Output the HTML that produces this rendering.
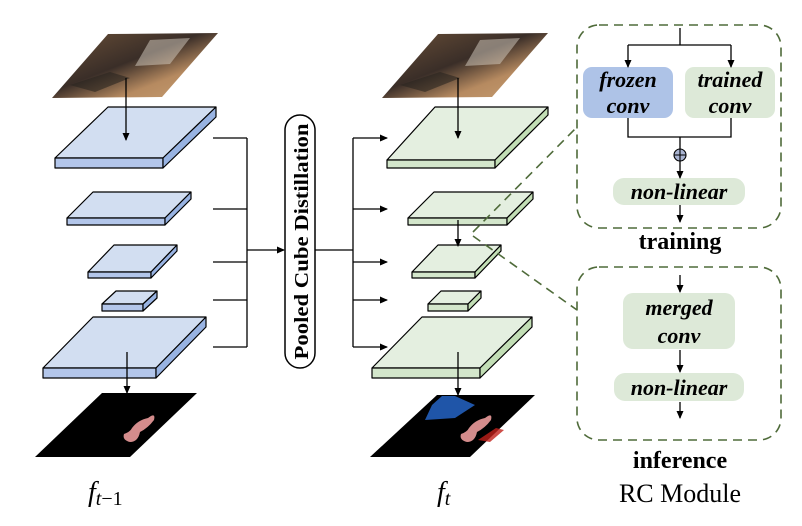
<!DOCTYPE html>
<html><head><meta charset="utf-8"><style>
html,body{margin:0;padding:0;background:#fff;}
svg{display:block;}
.sv{font-family:"Liberation Serif",serif;}
</style></head><body>
<svg width="802" height="526" viewBox="0 0 802 526" xmlns="http://www.w3.org/2000/svg">
<defs>
<marker id="ah" markerWidth="8" markerHeight="8" refX="7" refY="4" orient="auto" markerUnits="userSpaceOnUse">
<path d="M0,0.5 L8,4 L0,7.5 Z" fill="#000"/></marker>
<linearGradient id="ph" x1="0" y1="0" x2="1" y2="1">
<stop offset="0" stop-color="#6b5038"/><stop offset="0.45" stop-color="#3a2e28"/><stop offset="0.7" stop-color="#b68a60"/><stop offset="1" stop-color="#c9a074"/></linearGradient>
</defs>

<!-- photos -->
<polygon points="108,34 218,33 162,97 52,98" fill="url(#ph)"/>
<polygon points="150,40 190,38 170,64 135,66" fill="#d8d0c4" opacity="0.5"/>
<polygon points="70,85 110,72 130,78 95,92" fill="#2a2420" opacity="0.6"/>
<polygon points="438,34 548,33 492,97 382,98" fill="url(#ph)"/>
<polygon points="480,40 520,38 500,64 465,66" fill="#d8d0c4" opacity="0.5"/>
<polygon points="400,85 440,72 460,78 425,92" fill="#2a2420" opacity="0.6"/>

<!-- masks -->
<polygon points="102,393 197,393 130,457 35,457" fill="#000"/>
<path d="M148,418 q8,-6 6,2 q-6,8 -14,12 q-2,10 -10,10 q-8,-2 -6,-8 q6,-2 8,-6 q6,-8 16,-10z" fill="#d48c8c"/>
<polygon points="437,395 535,395 470,457 370,457" fill="#000"/>
<polygon points="442,396 455,396 475,405 455,418 425,420 432,405" fill="#1f55a8"/>
<path d="M485,418 q8,-6 6,2 q-6,8 -14,12 q-2,10 -10,10 q-8,-2 -6,-8 q6,-2 8,-6 q6,-8 16,-10z" fill="#d48c8c"/>
<path d="M478,440 l18,-12 l8,2 l-14,12z" fill="#c0201a" opacity="0.8"/>

<!-- slabs left (blue) -->
<g stroke="#000" stroke-width="1.2" stroke-linejoin="round">
<polygon points="55,158 163,158 216,107 108,107" fill="#d2def1"/><rect x="55" y="158" width="108" height="10" fill="#b3c6ea"/><polygon points="163,158 216,107 216,117 163,168" fill="#98b3e2"/>
<polygon points="67,218 165,218 191,192 93,192" fill="#d2def1"/><rect x="67" y="218" width="98" height="7" fill="#b3c6ea"/><polygon points="165,218 191,192 191,199 165,225" fill="#98b3e2"/>
<polygon points="88,272 151,272 177,245 114,245" fill="#d2def1"/><rect x="88" y="272" width="63" height="6" fill="#b3c6ea"/><polygon points="151,272 177,245 177,251 151,278" fill="#98b3e2"/>
<polygon points="102,304 143,304 157,291 116,291" fill="#d2def1"/><rect x="102" y="304" width="41" height="7" fill="#b3c6ea"/><polygon points="143,304 157,291 157,298 143,311" fill="#98b3e2"/>
<polygon points="43,368 156,368 206,317 93,317" fill="#d2def1"/><rect x="43" y="368" width="113" height="10" fill="#b3c6ea"/><polygon points="156,368 206,317 206,327 156,378" fill="#98b3e2"/>
</g>
<!-- slabs right (green) -->
<g stroke="#000" stroke-width="1.2" stroke-linejoin="round">
<polygon points="387,160 495,160 548,107 435,107" fill="#e4efe0"/><rect x="387" y="160" width="108" height="8" fill="#d3e6cb"/><polygon points="495,160 548,107 548,115 495,168" fill="#c2deb5"/>
<polygon points="408,218 507,218 533,192 434,192" fill="#e4efe0"/><rect x="408" y="218" width="99" height="7" fill="#d3e6cb"/><polygon points="507,218 533,192 533,199 507,225" fill="#c2deb5"/>
<polygon points="412,272 475,272 501,245 438,245" fill="#e4efe0"/><rect x="412" y="272" width="63" height="6" fill="#d3e6cb"/><polygon points="475,272 501,245 501,251 475,278" fill="#c2deb5"/>
<polygon points="428,304 468,304 481,291 441,291" fill="#e4efe0"/><rect x="428" y="304" width="40" height="7" fill="#d3e6cb"/><polygon points="468,304 481,291 481,298 468,311" fill="#c2deb5"/>
<polygon points="372,368 480,368 532,317 422,317" fill="#e4efe0"/><rect x="372" y="368" width="108" height="10" fill="#d3e6cb"/><polygon points="480,368 532,317 532,327 480,378" fill="#c2deb5"/>
</g>

<!-- vertical arrows -->
<g stroke="#000" stroke-width="1.3" fill="none">
<line x1="126" y1="78" x2="126" y2="140" marker-end="url(#ah)"/>
<line x1="458" y1="78" x2="458" y2="138" marker-end="url(#ah)"/>
<line x1="458" y1="220" x2="458" y2="246" marker-end="url(#ah)"/>
<line x1="127" y1="352" x2="127" y2="393" marker-end="url(#ah)"/>
<line x1="458" y1="352" x2="458" y2="395" marker-end="url(#ah)"/>
</g>

<!-- connectors -->
<g stroke="#000" stroke-width="1.3" fill="none">
<path d="M213,138 H247 M213,209 H247 M213,262 H247 M213,300 H247 M213,347 H247 M247,138 V347"/>
<line x1="247" y1="250" x2="284" y2="250" marker-end="url(#ah)"/>
<path d="M315,250 H353 M353,138 V347"/>
<line x1="353" y1="138" x2="387" y2="138" marker-end="url(#ah)"/>
<line x1="353" y1="209" x2="387" y2="209" marker-end="url(#ah)"/>
<line x1="353" y1="262" x2="387" y2="262" marker-end="url(#ah)"/>
<line x1="353" y1="300" x2="387" y2="300" marker-end="url(#ah)"/>
<line x1="353" y1="347" x2="387" y2="347" marker-end="url(#ah)"/>
</g>
<rect x="285" y="115" width="30" height="253" rx="15" fill="#fff" stroke="#000" stroke-width="1.5"/>
<text class="sv" transform="translate(308,241.5) rotate(-90)" text-anchor="middle" font-size="19.5" font-weight="bold" textLength="236" lengthAdjust="spacingAndGlyphs">Pooled Cube Distillation</text>

<!-- dashed links -->
<g stroke="#4f6b3a" stroke-width="1.6" stroke-dasharray="9,6" fill="none">
<line x1="473" y1="232" x2="577" y2="127"/>
<line x1="473" y1="236" x2="577" y2="310"/>
<rect x="577" y="25" width="204" height="203" rx="22"/>
<rect x="577" y="267" width="204" height="173" rx="22"/>
</g>

<!-- training module -->
<rect x="583" y="67" width="90" height="51" rx="9" fill="#aec3e7"/>
<rect x="685" y="67" width="90" height="51" rx="9" fill="#dde9d8"/>
<rect x="613" y="178" width="132" height="27" rx="11" fill="#dde9d8"/>
<g stroke="#000" stroke-width="1.3" fill="none">
<path d="M680,28 V45 M628,45 H731"/>
<line x1="628" y1="45" x2="628" y2="67" marker-end="url(#ah)"/>
<line x1="731" y1="45" x2="731" y2="67" marker-end="url(#ah)"/>
<path d="M628,118 V137 H731 V118 M680,137 V149"/>
<line x1="680" y1="161" x2="680" y2="178" marker-end="url(#ah)"/>
<line x1="680" y1="205" x2="680" y2="222" marker-end="url(#ah)"/>
</g>
<circle cx="680" cy="155" r="6" fill="#a9b4d2" stroke="#000" stroke-width="1.1"/>
<path d="M674,155 H686 M680,149 V161" stroke="#000" stroke-width="1.1"/>
<g class="sv" font-size="22" font-weight="bold" font-style="italic" text-anchor="middle">
<text x="628" y="87">frozen</text><text x="628" y="113">conv</text>
<text x="730" y="87">trained</text><text x="730" y="113">conv</text>
<text x="679" y="199">non-linear</text>
</g>
<text class="sv" x="680" y="249" font-size="24" font-weight="bold" text-anchor="middle">training</text>

<!-- inference module -->
<rect x="623" y="293" width="112" height="56" rx="10" fill="#dde9d8"/>
<rect x="614" y="373" width="130" height="28" rx="11" fill="#dde9d8"/>
<g stroke="#000" stroke-width="1.3">
<line x1="680" y1="275" x2="680" y2="292" marker-end="url(#ah)"/>
<line x1="680" y1="350" x2="680" y2="372" marker-end="url(#ah)"/>
<line x1="680" y1="402" x2="680" y2="418" marker-end="url(#ah)"/>
</g>
<g class="sv" font-size="22" font-weight="bold" font-style="italic" text-anchor="middle">
<text x="679" y="315">merged</text><text x="679" y="343">conv</text>
<text x="679" y="395">non-linear</text>
</g>
<text class="sv" x="680" y="468" font-size="24" font-weight="bold" text-anchor="middle">inference</text>
<text class="sv" x="680" y="502" font-size="26" text-anchor="middle">RC Module</text>

<!-- f labels -->
<text class="sv" x="88" y="501" font-size="28" font-style="italic">f<tspan font-size="20" dy="4">t</tspan><tspan font-size="20" font-style="normal">−1</tspan></text>
<text class="sv" x="437" y="501" font-size="28" font-style="italic">f<tspan font-size="20" dy="4">t</tspan></text>
</svg>
</body></html>
